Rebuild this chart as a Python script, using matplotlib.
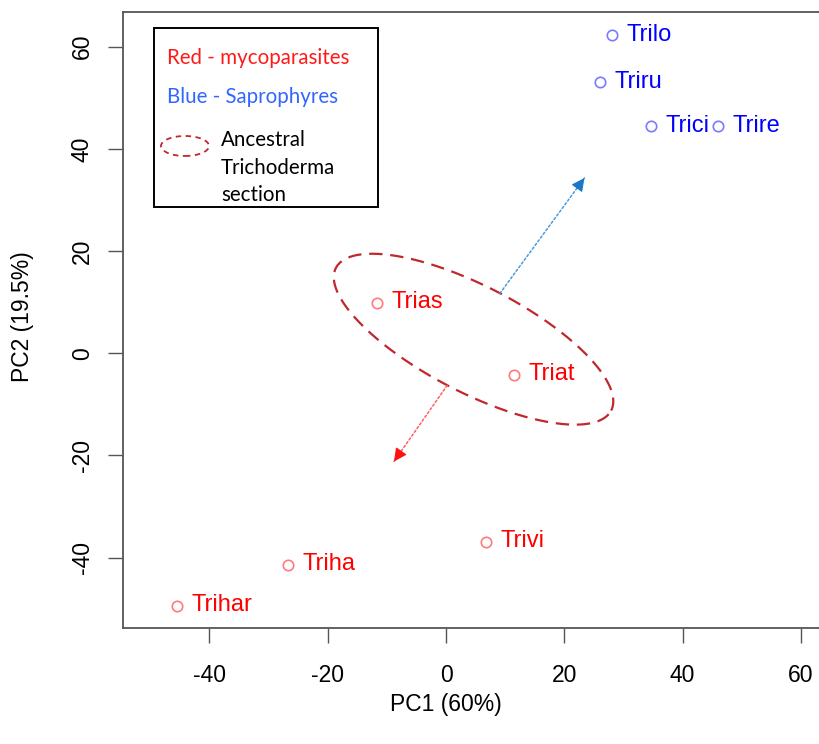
import matplotlib
matplotlib.use("Agg")
import matplotlib.pyplot as plt
import numpy as np
from matplotlib.patches import Rectangle, Ellipse

# ---- data ----
names = ["Trilo", "Triru", "Trici", "Trire", "Trias", "Triat", "Trivi", "Triha", "Trihar"]
pc1 = [28.1, 26.0, 34.7, 46.0, -11.7, 11.5, 6.8, -26.7, -45.5]
pc2 = [62.2, 53.0, 44.4, 44.4, 9.8, -4.3, -37.0, -41.5, -49.5]
group = ["sap", "sap", "sap", "sap", "myco", "myco", "myco", "myco", "myco"]

x_ticks = [-40, -20, 0, 20, 40, 60]
y_ticks = [-40, -20, 0, 20, 40, 60]

# arrows (start -> end, in PC units)
blue_arrow = [(9.1, 11.7), (23.4, 34.3)]
red_arrow = [(0.2, -6.3), (-8.8, -21.2)]

# ellipse around ancestral section (center in PC units)
ell_center = (4.65, 2.74)

W, H = 820, 744
fig = plt.figure(figsize=(W / 100, H / 100), dpi=100)

def fx(px):
    return px / W

def fy(py):
    return 1 - py / H

ax_left, ax_right, ax_top, ax_bot = 123, 830, 12, 628
ax = fig.add_axes([fx(ax_left), fy(ax_bot), fx(ax_right - ax_left), (ax_bot - ax_top) / H])

ax.set_xlim(-54.6, 64.9)
ax.set_ylim(-53.8, 66.8)

edge_col = {"sap": "#7b7bff", "myco": "#ff7b7b"}
text_col = {"sap": "#0000ff", "myco": "#ff0000"}
font = "Liberation Sans"

for n, x, y, g in zip(names, pc1, pc2, group):
    ax.plot(x, y, marker="o", ms=7.5, mfc="none", mec=edge_col[g], mew=1.2, ls="none")
    ax.annotate(n, (x, y), xytext=(10.5, 0.5), textcoords="offset points",
                color=text_col[g], fontsize=17, family=font, va="center", ha="left")

# ellipse: built in pixel space then mapped to data
fig.canvas.draw()
cxp, cyp = ax.transData.transform(ell_center)
a, b, ang = 155, 53, np.deg2rad(-27.4)
t = np.linspace(0, 2 * np.pi, 400)
ex = cxp + a * np.cos(t) * np.cos(ang) - b * np.sin(t) * np.sin(ang)
ey = cyp + a * np.cos(t) * np.sin(ang) + b * np.sin(t) * np.cos(ang)
pts = ax.transData.inverted().transform(np.column_stack([ex, ey]))
ax.plot(pts[:, 0], pts[:, 1], color="#c0282d", lw=1.6, ls=(0, (6, 3.5)))

def arrow(seg, line_col, head_col):
    (x0, y0), (x1, y1) = seg
    ax.annotate("", xy=(x1, y1), xytext=(x0, y0),
                arrowprops=dict(arrowstyle="-", color=line_col, lw=1.1,
                                linestyle=(0, (1.5, 1.5)), shrinkA=0, shrinkB=0))
    # solid head on the final stretch
    f = 0.92
    ax.annotate("", xy=(x1, y1), xytext=(x0 + f * (x1 - x0), y0 + f * (y1 - y0)),
                arrowprops=dict(arrowstyle="-|>,head_length=0.8,head_width=0.4",
                                color=head_col, lw=0.8, shrinkA=0, shrinkB=0))

arrow(blue_arrow, "#4a9ae0", "#1a78c8")
arrow(red_arrow, "#ff6060", "#ff1010")

ax.set_xticks(x_ticks)
ax.set_yticks(y_ticks)
ax.set_xticklabels([str(v) for v in x_ticks], family=font, fontsize=16.5)
ax.set_yticklabels([str(v) for v in y_ticks], family=font, fontsize=16.5,
                   rotation=90, va="center")
ax.tick_params(axis="both", length=11, width=1.0, color="#555555", direction="out")
ax.tick_params(axis="x", pad=15)
ax.tick_params(axis="y", pad=10)
for s in ["left", "bottom", "top"]:
    ax.spines[s].set_color("#555555")
    ax.spines[s].set_linewidth(1.3)
ax.spines["right"].set_visible(False)

fig.text(fx(446), fy(705), "PC1 (60%)", family=font, fontsize=16.5, ha="center", va="center")
fig.text(fx(23), fy(317), "PC2 (19.5%)", family=font, fontsize=16.5, ha="center",
         va="center", rotation=90)

# legend box
lfont = "Lato"
fig.add_artist(Rectangle((fx(154), fy(207)), fx(378 - 154), (207 - 28) / H,
                         transform=fig.transFigure, fill=False, ec="black", lw=1.4))
fig.text(fx(167), fy(58), "Red - mycoparasites", color="#ff1a1a", family=lfont,
         fontsize=14.8, va="center", ha="left")
fig.text(fx(167), fy(97), "Blue - Saprophyres", color="#3366ff", family=lfont,
         fontsize=14.8, va="center", ha="left")
fig.add_artist(Ellipse((fx(185), fy(146)), fx(48), 20 / H, transform=fig.transFigure,
                       fill=False, ec="#c0282d", lw=1.3, ls=(0, (3, 2.5))))
for i, line in enumerate(["Ancestral", "Trichoderma", "section"]):
    fig.text(fx(221), fy(140 + 27.5 * i), line, color="black", family=lfont,
             fontsize=14.8, va="center", ha="left")

fig.savefig("out.png", dpi=100)
